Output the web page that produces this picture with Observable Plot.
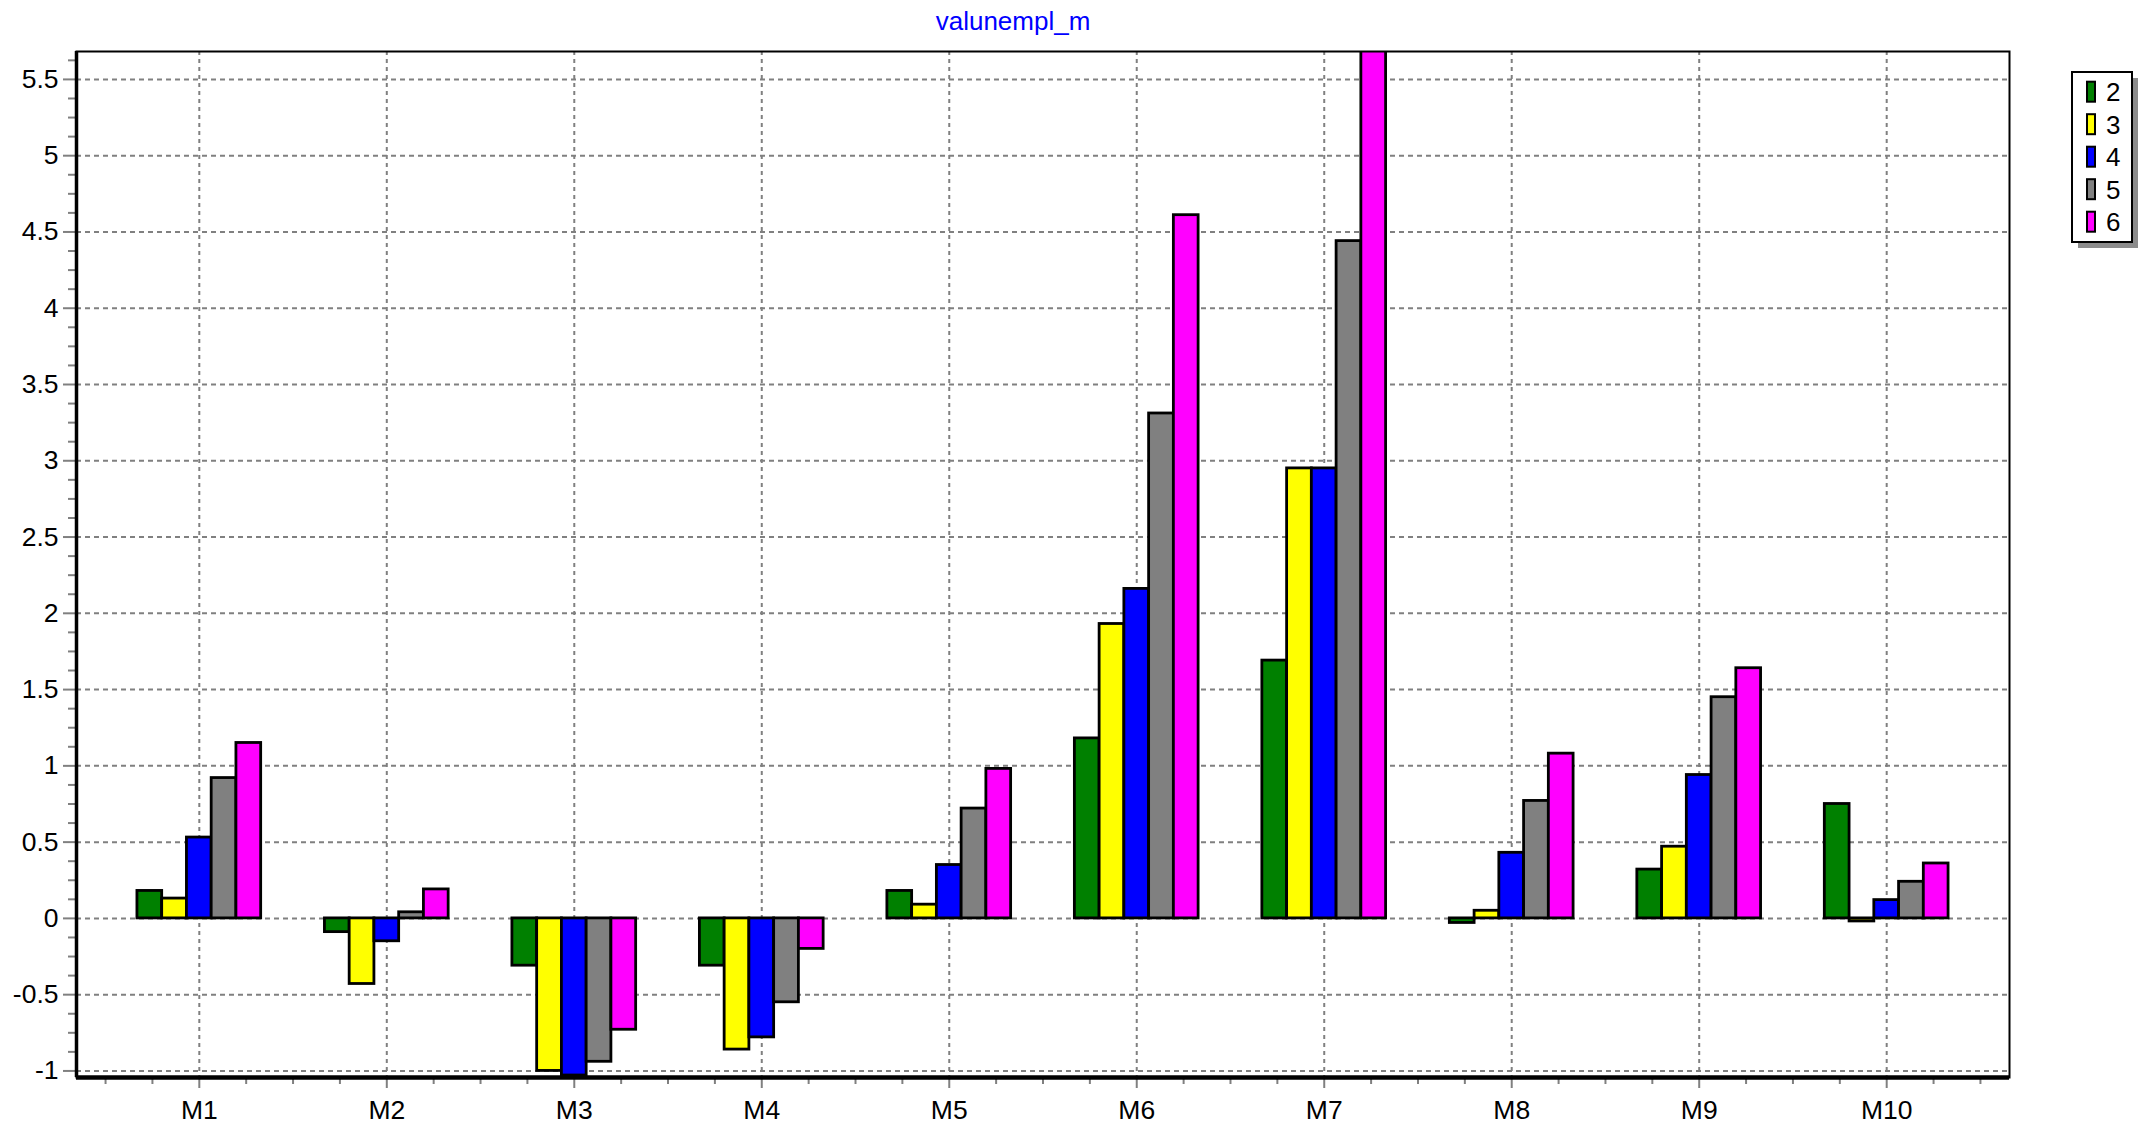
<!DOCTYPE html>
<html>
<head>
<meta charset="utf-8">
<script src="https://cdn.jsdelivr.net/npm/d3@7"></script>
<script src="https://cdn.jsdelivr.net/npm/@observablehq/plot@0.6"></script>
<style>
  html, body { margin: 0; padding: 0; background: #fff; }
  #chart svg { display: block; }
</style>
</head>
<body>
<div id="chart"></div>
<script>
const title = "valunempl_m";
const months = ["M1", "M2", "M3", "M4", "M5", "M6", "M7", "M8", "M9", "M10"];
const seriesNames = ["2", "3", "4", "5", "6"];
const seriesColors = ["#008000", "#ffff00", "#0000ff", "#808080", "#ff00ff"];
const s2 = [0.18, -0.09, -0.31, -0.31, 0.18, 1.18, 1.69, -0.03, 0.32, 0.75];
const s3 = [0.13, -0.43, -1.00, -0.86, 0.09, 1.93, 2.95, 0.05, 0.47, -0.02];
const s4 = [0.53, -0.15, -1.03, -0.78, 0.35, 2.16, 2.95, 0.43, 0.94, 0.12];
const s5 = [0.92, 0.04, -0.94, -0.55, 0.72, 3.31, 4.44, 0.77, 1.45, 0.24];
const s6 = [1.15, 0.19, -0.73, -0.20, 0.98, 4.61, 5.90, 1.08, 1.64, 0.36];
const yTickValues = [-1, -0.5, 0, 0.5, 1, 1.5, 2, 2.5, 3, 3.5, 4, 4.5, 5, 5.5];

const seriesValues = [s2, s3, s4, s5, s6];
const xDomain = [0.345, 10.655];
const yDomain = [-1.043, 5.683];
const groupHalf = 0.33;
const barW = (2 * groupHalf) / seriesNames.length;

const table = [];
months.forEach((m, i) => {
  seriesNames.forEach((s, j) => {
    const x1 = (i + 1) - groupHalf + j * barW;
    table.push({month: m, series: s, value: seriesValues[j][i], x1, x2: x1 + barW});
  });
});

const xMajor = months.map((m, i) => i + 1);
const xMinor = d3.range(0.5, 10.51, 0.25).filter(v => v > xDomain[0] && v < xDomain[1] && !Number.isInteger(v));
const yMinor = d3.range(-1, 5.7, 0.125).filter(v => v > yDomain[0] && v < yDomain[1] && Math.abs(v * 2 - Math.round(v * 2)) > 1e-9);

const font = "'Liberation Sans', Arial, sans-serif";
const grey = "#808080";

const plot = Plot.plot({
  width: 2149,
  height: 1126,
  marginLeft: 76,
  marginRight: 140,
  marginTop: 51,
  marginBottom: 49,
  style: {fontFamily: font, background: "#fff"},
  x: {domain: xDomain, label: null},
  y: {domain: yDomain, label: null},
  color: {domain: seriesNames, range: seriesColors},
  marks: [
    Plot.gridX(xMajor, {stroke: grey, strokeOpacity: 1, strokeWidth: 2, strokeDasharray: "4,4"}),
    Plot.gridY(yTickValues, {stroke: grey, strokeOpacity: 1, strokeWidth: 2, strokeDasharray: "5,4"}),
    Plot.rect(table, {x1: "x1", x2: "x2", y1: 0, y2: "value", fill: "series", stroke: "black", strokeWidth: 2.8, clip: true}),
    Plot.axisY(yTickValues, {tickSize: 13, tickPadding: 5, stroke: grey, strokeWidth: 2, fill: "black", fontSize: 26.5, tickFormat: d => String(d)}),
    Plot.axisY(yMinor, {tickSize: 8, stroke: grey, strokeWidth: 2, tickFormat: () => ""}),
    Plot.axisX(xMajor, {tickSize: 11, tickPadding: 12, stroke: grey, strokeWidth: 2, fill: "black", fontSize: 26.5, tickFormat: d => months[d - 1]}),
    Plot.axisX(xMinor, {tickSize: 7, stroke: grey, strokeWidth: 2, tickFormat: () => ""}),
    Plot.frame({stroke: "black", strokeWidth: 2}),
    Plot.ruleX([xDomain[0]], {stroke: "black", strokeWidth: 3.5}),
    Plot.ruleY([yDomain[0]], {stroke: "black", strokeWidth: 4.5}),
    Plot.text([title], {text: d => d, frameAnchor: "top", dx: -30, dy: -22, lineAnchor: "bottom", fill: "#0000ff", fontSize: 26})
  ]
});

// Legend box at upper right
const svg = d3.select(plot);
const lg = svg.append("g").attr("font-family", font).attr("text-anchor", "start");
const bx = 2072, by = 72, bw = 60, bh = 170;
lg.append("rect").attr("x", bx + 6).attr("y", by + 6).attr("width", bw).attr("height", bh).attr("fill", "#8c8c8c");
lg.append("rect").attr("x", bx).attr("y", by).attr("width", bw).attr("height", bh).attr("fill", "#fff").attr("stroke", "black").attr("stroke-width", 2);
seriesNames.forEach((s, j) => {
  const cy = 91.7 + j * 32.5;
  lg.append("rect").attr("x", 2087).attr("y", cy - 10).attr("width", 8).attr("height", 20)
    .attr("fill", seriesColors[j]).attr("stroke", "black").attr("stroke-width", 2);
  lg.append("text").attr("x", 2106).attr("y", cy + 9.5).attr("text-anchor", "start").style("font-size", "26px").attr("fill", "black").text(s);
});

document.getElementById("chart").appendChild(plot);
</script>
</body>
</html>
